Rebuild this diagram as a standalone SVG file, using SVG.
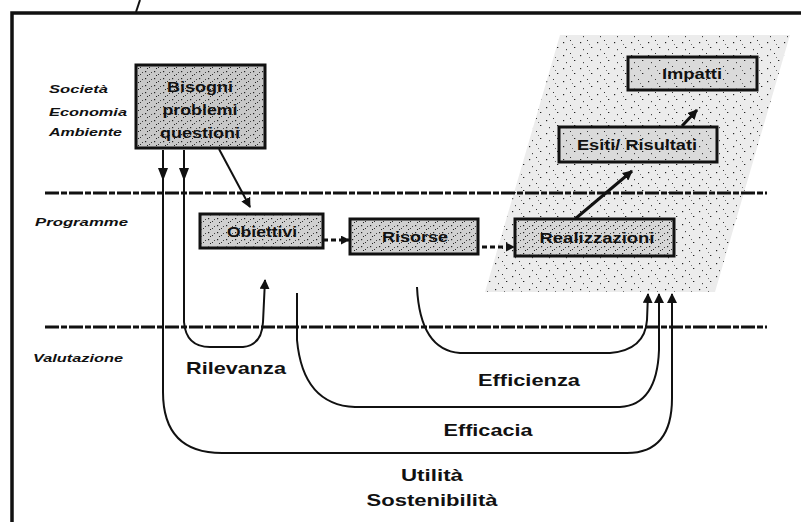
<svg xmlns="http://www.w3.org/2000/svg" width="801" height="522" viewBox="0 0 801 522">
<defs>
<pattern id="speck" width="17" height="13" patternUnits="userSpaceOnUse">
<rect x="2" y="3" width="1.2" height="1.2" fill="#222"/>
<rect x="9" y="1" width="1" height="1" fill="#333"/>
<rect x="13" y="8" width="1.3" height="1" fill="#222"/>
<rect x="5" y="10" width="1" height="1.2" fill="#444"/>
<rect x="11" y="5" width="0.9" height="0.9" fill="#555"/>
</pattern>
<pattern id="speck2" width="9" height="7" patternUnits="userSpaceOnUse">
<rect x="1" y="1" width="1.2" height="1.2" fill="#222"/>
<rect x="5" y="4" width="1" height="1" fill="#333"/>
<rect x="7" y="2" width="1" height="1" fill="#444"/>
<rect x="3" y="5" width="1" height="1" fill="#222"/>
</pattern>
<marker id="ah" viewBox="0 0 10 10" refX="9" refY="5" markerWidth="10" markerHeight="10" markerUnits="userSpaceOnUse" orient="auto">
<path d="M0,0 L10,5 L0,10 z" fill="#111"/>
</marker>
<marker id="ahs" viewBox="0 0 10 10" refX="9" refY="5" markerWidth="9" markerHeight="9" markerUnits="userSpaceOnUse" orient="auto">
<path d="M0,0 L10,5 L0,10 z" fill="#111"/>
</marker>
</defs>
<style>
.frame{fill:none;stroke:#111;stroke-width:3.5}
.lvl{fill:none;stroke:#111;stroke-width:3;stroke-dasharray:14 2 6 2}
.box{stroke:#111;stroke-width:3}
.bt{font-family:"Liberation Sans",Arial,sans-serif;font-weight:bold;font-size:14px;fill:#111;text-anchor:middle}
.lab{font-family:"Liberation Sans",Arial,sans-serif;font-weight:bold;font-style:italic;font-size:11.5px;fill:#111}
.crit{font-family:"Liberation Sans",Arial,sans-serif;font-weight:bold;font-size:17px;fill:#111;text-anchor:middle}
.ln{fill:none;stroke:#111;stroke-width:2}
.thick{fill:none;stroke:#111;stroke-width:3}
.dash{fill:none;stroke:#111;stroke-width:3;stroke-dasharray:5 3}
</style>
<rect width="801" height="522" fill="#fff"/>
<path class="frame" d="M12,522 L12,13 L801,13"/>
<line x1="140" y1="0" x2="136" y2="12" stroke="#111" stroke-width="2"/>

<g id="shade">
<polygon points="560,35 790,35 715,292 485,292" fill="#ececec"/>
<polygon points="560,35 790,35 715,292 485,292" fill="url(#speck)"/>
</g>

<path class="lvl" d="M45,193 L767,193"/>
<path class="lvl" d="M45,327 L767,327"/>

<g id="labels">
<text class="lab" x="49" y="93" textLength="59" lengthAdjust="spacingAndGlyphs">Società</text>
<text class="lab" x="49" y="116" textLength="78" lengthAdjust="spacingAndGlyphs">Economia</text>
<text class="lab" x="49" y="136" textLength="73" lengthAdjust="spacingAndGlyphs">Ambiente</text>
<text class="lab" x="35" y="226" textLength="93" lengthAdjust="spacingAndGlyphs">Programme</text>
<text class="lab" x="33" y="362" textLength="90" lengthAdjust="spacingAndGlyphs">Valutazione</text>
</g>

<g id="bisogni">
<rect class="box" x="136" y="65" width="129" height="83" fill="#c8c8c8"/>
<rect x="137.5" y="66.5" width="126" height="80" fill="url(#speck2)"/>
<text class="bt" x="200" y="92" textLength="66" lengthAdjust="spacingAndGlyphs">Bisogni</text>
<text class="bt" x="200" y="115" textLength="75" lengthAdjust="spacingAndGlyphs">problemi</text>
<text class="bt" x="200" y="138" textLength="80" lengthAdjust="spacingAndGlyphs">questioni</text>
</g>

<g id="obiettivi">
<rect class="box" x="200" y="214" width="123" height="34" fill="#d0d0d0"/>
<rect x="201.5" y="215.5" width="120" height="31" fill="url(#speck2)"/>
<text class="bt" x="262" y="237" textLength="70" lengthAdjust="spacingAndGlyphs">Obiettivi</text>
</g>

<g id="risorse">
<rect class="box" x="350" y="219" width="128" height="35" fill="#d0d0d0"/>
<rect x="351.5" y="220.5" width="125" height="32" fill="url(#speck2)"/>
<text class="bt" x="415" y="242" textLength="66" lengthAdjust="spacingAndGlyphs">Risorse</text>
</g>

<g id="realizzazioni">
<rect class="box" x="515" y="219" width="159" height="37" fill="#d6d6d6"/>
<rect x="516.5" y="220.5" width="156" height="34" fill="url(#speck2)"/>
<text class="bt" x="597" y="243" textLength="115" lengthAdjust="spacingAndGlyphs">Realizzazioni</text>
</g>

<g id="esiti">
<rect class="box" x="559" y="127" width="158" height="35" fill="#dadada"/>
<rect x="560.5" y="128.5" width="155" height="32" fill="url(#speck)"/>
<text class="bt" x="637" y="150" textLength="120" lengthAdjust="spacingAndGlyphs">Esiti/ Risultati</text>
</g>

<g id="impatti">
<rect class="box" x="628" y="57" width="129" height="33" fill="#dadada"/>
<rect x="629.5" y="58.5" width="126" height="30" fill="url(#speck)"/>
<text class="bt" x="692" y="79" textLength="60" lengthAdjust="spacingAndGlyphs">Impatti</text>
</g>

<g id="criteria">
<text class="crit" x="236" y="374" textLength="100" lengthAdjust="spacingAndGlyphs">Rilevanza</text>
<text class="crit" x="529" y="386" textLength="102" lengthAdjust="spacingAndGlyphs">Efficienza</text>
<text class="crit" x="488" y="436" textLength="89" lengthAdjust="spacingAndGlyphs">Efficacia</text>
<text class="crit" x="432" y="481" textLength="62" lengthAdjust="spacingAndGlyphs">Utilità</text>
<text class="crit" x="432" y="506" textLength="131" lengthAdjust="spacingAndGlyphs">Sostenibilità</text>
</g>

<g id="connectors">
<path class="ln" d="M219,149 L250,207" marker-end="url(#ah)"/>
<path class="dash" d="M323,240 L349,240" marker-end="url(#ahs)"/>
<path class="dash" d="M482,247 L514,247" marker-end="url(#ahs)"/>
<path class="thick" d="M575,219 L632,171" marker-end="url(#ah)"/>
<path class="thick" d="M682,126 L697,110" marker-end="url(#ah)"/>
<path class="ln" d="M163,150 L163,392 Q163,453 222,453 L627,453 Q672,453 672,398 L672,294" marker-end="url(#ah)"/>
<path class="ln" d="M184,150 L184,322 Q186,347 210,347 L243,347 Q262,345 263,322 L265,280" marker-end="url(#ah)"/>
<path class="ln" d="M297,293 L297,340 Q303,405 355,407 L620,407 Q657,405 659,350 L659,294" marker-end="url(#ah)"/>
<path class="ln" d="M417,287 Q420,350 460,353 L610,353 Q645,350 647,320 L648,294" marker-end="url(#ah)"/>
<path d="M158,168 L168,168 L163,181 z" fill="#111"/>
<path d="M179,168 L189,168 L184,181 z" fill="#111"/>
</g>
</svg>
